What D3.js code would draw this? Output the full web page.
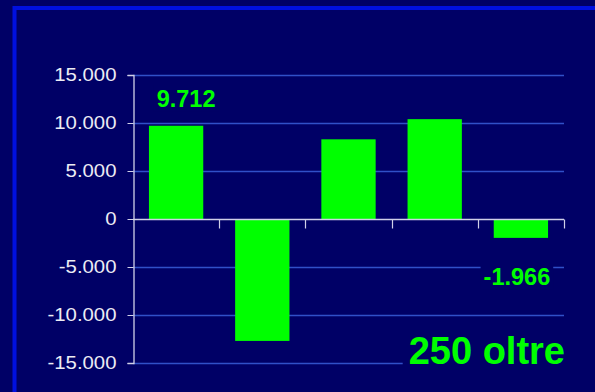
<!DOCTYPE html>
<html>
<head>
<meta charset="utf-8">
<script src="https://cdn.jsdelivr.net/npm/d3@7"></script>
<style>
  html, body { margin: 0; padding: 0; background: #000066; }
  svg { display: block; }
</style>
</head>
<body>
<svg id="chart" width="595" height="392"></svg>
<script>
const categories = ["A", "B", "C", "D", "E"];
const values = [9712, -12700, 8300, 10400, -1966];
const tickValues = [-15000, -10000, -5000, 0, 5000, 10000, 15000];
const labelledIndex = [0, 4];
const title = "250 oltre";

const W = 595, H = 392;
const svg = d3.select("#chart");
const fmt = v => d3.format(",")(v).replace(/,/g, ".").replace(/\u2212/g, "-");

svg.append("rect").attr("x", 0).attr("y", 0).attr("width", W).attr("height", H).attr("fill", "#000066");
// frame
svg.append("rect").attr("x", 14.5).attr("y", 8).attr("width", 600).attr("height", 400)
  .attr("fill", "none").attr("stroke", "#0010e0").attr("stroke-width", 4);

const left = 133, right = 564;
const y = d3.scaleLinear().domain([-15000, 15000]).range([363, 75]);
const x = d3.scaleBand().domain(categories).range([left, right]).paddingInner(0.37).paddingOuter(0.185);

// gridlines
svg.append("g").selectAll("line").data(tickValues.filter(v => v !== 0)).join("line")
  .attr("x1", left).attr("x2", right)
  .attr("y1", d => Math.round(y(d)) + 0.5).attr("y2", d => Math.round(y(d)) + 0.5)
  .attr("stroke", "#3050c8").attr("stroke-width", 1.5);

// y axis
const yAxis = d3.axisLeft(y).tickValues(tickValues).tickSize(6).tickPadding(11).tickFormat(fmt);
const gy = svg.append("g").attr("transform", `translate(${left + 0.5},0)`).call(yAxis);
gy.select(".domain").attr("stroke", "#d0d0e8").attr("stroke-width", 1.3);
gy.selectAll(".tick line").attr("stroke", "#d0d0e8");
gy.selectAll(".tick text").attr("fill", "#ececf4").style("font-family", "'Liberation Sans', Arial, sans-serif")
  .style("font-size", "18.5px")
  .each(function() {
    const t = d3.select(this);
    const tx = +t.attr("x");
    t.attr("x", 0).attr("dy", "0.28em").attr("transform", `translate(${tx},0) scale(1.1,1)`);
  });

// bars
svg.append("g").selectAll("rect").data(values).join("rect")
  .attr("x", (d, i) => x(categories[i]))
  .attr("width", x.bandwidth())
  .attr("y", d => y(Math.max(0, d)))
  .attr("height", d => Math.abs(y(d) - y(0)))
  .attr("fill", "#00ff00");

// zero axis with category ticks
const y0 = Math.round(y(0)) + 0.5;
svg.append("line").attr("x1", left).attr("x2", right).attr("y1", y0).attr("y2", y0)
  .attr("stroke", "#d0d0e8").attr("stroke-width", 1.5);
const step = (right - left) / categories.length;
svg.append("g").selectAll("line").data(d3.range(1, categories.length + 1)).join("line")
  .attr("x1", d => Math.round(left + d * step) + 0.5).attr("x2", d => Math.round(left + d * step) + 0.5)
  .attr("y1", y0).attr("y2", y0 + 9)
  .attr("stroke", "#d0d0e8").attr("stroke-width", 1.2);

// data labels
const labelFont = "'Liberation Sans', Arial, sans-serif";
const labelCfg = { 0: { dx: 10, dy: -19 }, 4: { dx: -4, dy: 47 } };
labelledIndex.forEach(i => {
  const cx = x(categories[i]) + x.bandwidth() / 2 + labelCfg[i].dx;
  const by = y(values[i]) + labelCfg[i].dy;
  const t = svg.append("text").attr("x", cx).attr("y", by).attr("text-anchor", "middle")
    .attr("fill", "#00ff00").style("font-family", labelFont).style("font-size", "23.5px").style("font-weight", "bold")
    .text(fmt(values[i]));
  const bb = t.node().getBBox();
  svg.insert("rect", () => t.node()).attr("x", bb.x - 3).attr("y", bb.y).attr("width", bb.width + 6).attr("height", bb.height)
    .attr("fill", "#000066");
});

// title text
const tt = svg.append("text").attr("x", 565).attr("y", 364).attr("text-anchor", "end")
  .attr("fill", "#00ff00").style("font-family", labelFont).style("font-size", "38px").style("font-weight", "bold")
  .text(title);
const tb = tt.node().getBBox();
svg.insert("rect", () => tt.node()).attr("x", tb.x - 6).attr("y", tb.y).attr("width", tb.width + 8).attr("height", tb.height)
  .attr("fill", "#000066");
</script>
</body>
</html>
